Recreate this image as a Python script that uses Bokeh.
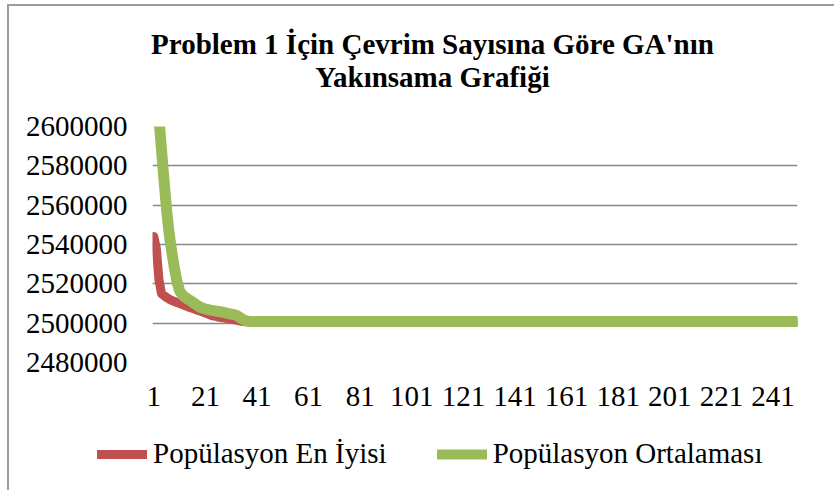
from bokeh.plotting import figure
from bokeh.layouts import column
from bokeh.models import Label, Legend, LegendItem, FixedTicker, Range1d, BasicTickFormatter, ColumnDataSource
from bokeh.embed import file_html
from bokeh.resources import INLINE

# ---- data ----
n_generations = 250
generations = list(range(1, n_generations + 1))

best_head = [2544000, 2538000, 2522000, 2515000, 2514000, 2513000, 2512200, 2511500,
             2511000, 2510500, 2510000, 2509500, 2509000, 2508500, 2508000, 2507500,
             2507000, 2506600, 2506100, 2505600, 2505100, 2504600, 2504100, 2503700,
             2503400, 2503100, 2502900, 2502700, 2502500, 2502300, 2502100, 2501800,
             2501500, 2501200, 2501000, 2500800]
best_level = 2500700

avg_head = [2650000, 2625000, 2604000, 2588000, 2572000, 2557000, 2545000, 2536000,
            2528000, 2521000, 2516500, 2514500, 2513300, 2512400, 2511600, 2510700,
            2509800, 2508900, 2508100, 2507600, 2507200, 2506900, 2506600, 2506400,
            2506200, 2506000, 2505800, 2505500, 2505200, 2504900, 2504600, 2504300,
            2504000, 2503200, 2502300, 2501600, 2501100, 2500900]
avg_level = 2500800

best = best_head + [best_level] * (n_generations - len(best_head))
avg = avg_head + [avg_level] * (n_generations - len(avg_head))

y_ticks = [2480000, 2500000, 2520000, 2540000, 2560000, 2580000, 2600000]
x_ticks = [1, 21, 41, 61, 81, 101, 121, 141, 161, 181, 201, 221, 241]

title_line1 = "Problem 1 İçin Çevrim Sayısına Göre GA'nın"
title_line2 = "Yakınsama Grafiği"
label_best = "Popülasyon En İyisi"
label_avg = "Popülasyon Ortalaması"

FONT = "Liberation Serif"
RED = "#c0504d"
GREEN = "#9bbb59"
GRID = "#878787"
BORDER = "#9c9c9c"
W = 825
H_TITLE, H_MAIN, H_LEG = 100, 314, 70

source = ColumnDataSource(data=dict(gen=generations, best=best, avg=avg))


def strip(height, xr, yr):
    f = figure(width=W, height=height, output_backend="svg", toolbar_location=None,
               x_axis_type=None, y_axis_type=None, x_range=xr, y_range=yr,
               min_border=0, min_border_left=0, min_border_right=0,
               min_border_top=0, min_border_bottom=0)
    f.outline_line_color = None
    f.grid.visible = False
    f.frame_align = False
    return f


# ---------- title strip (pixel-space frame) ----------
pt = strip(H_TITLE, Range1d(0, W), Range1d(H_TITLE, 0))
for txt, ty in ((title_line1, 37), (title_line2, 70)):
    pt.add_layout(Label(x=423, y=ty, text=txt, text_align="center", text_baseline="alphabetic",
                        text_font=FONT, text_font_size="29px", text_font_style="bold",
                        text_color="black"))

# ---------- main chart ----------
p = figure(width=W, height=H_MAIN, output_backend="svg", toolbar_location=None,
           x_range=Range1d(0.5, n_generations + 0.5), y_range=Range1d(y_ticks[0], y_ticks[-1]),
           min_border_left=143, min_border_right=37, min_border_top=20, min_border_bottom=58)
p.frame_align = False
p.outline_line_color = None
p.background_fill_color = "white"
p.border_fill_color = "white"

r_best = p.line("gen", "best", source=source, line_color=RED, line_width=9,
                line_cap="round", line_join="round")
r_avg = p.line("gen", "avg", source=source, line_color=GREEN, line_width=11,
               line_cap="round", line_join="round")

p.xgrid.visible = False
p.ygrid.grid_line_color = GRID
p.ygrid.grid_line_width = 1.6
p.yaxis.ticker = FixedTicker(ticks=y_ticks)
p.xaxis.ticker = FixedTicker(ticks=x_ticks)
p.yaxis.formatter = BasicTickFormatter(use_scientific=False)

for ax in (p.xaxis[0], p.yaxis[0]):
    ax.axis_line_color = None
    ax.major_tick_line_color = None
    ax.minor_tick_line_color = None
    ax.major_tick_out = 0
    ax.major_tick_in = 0
    ax.minor_tick_out = 0
    ax.major_label_text_font = FONT
    ax.major_label_text_font_size = "29px"
    ax.major_label_text_color = "black"
p.yaxis.major_label_standoff = 25
p.xaxis.major_label_standoff = 24

# ---------- legend strip (series lie outside its ranges; only the legend shows) ----------
pl = strip(H_LEG, Range1d(0, 1), Range1d(0, 1))
lr_best = pl.line("gen", "best", source=source, line_color=RED, line_width=9, line_cap="round")
lr_avg = pl.line("gen", "avg", source=source, line_color=GREEN, line_width=10, line_cap="round")
legend = Legend(items=[LegendItem(label=label_best, renderers=[lr_best]),
                       LegendItem(label=label_avg, renderers=[lr_avg])],
                orientation="horizontal", location=(88, 20),
                label_text_font=FONT, label_text_font_size="29px", label_text_color="black",
                glyph_width=50, glyph_height=20, label_standoff=6, spacing=50,
                padding=0, margin=0, border_line_color=None, background_fill_alpha=0)
pl.add_layout(legend)

layout = column(pt, p, pl, spacing=0,
                styles={"margin-left": "7px", "margin-top": "4px",
                        "border-left": f"2px solid {BORDER}", "border-top": f"2px solid {BORDER}"})
open("out.html", "w").write(file_html(layout, INLINE))
